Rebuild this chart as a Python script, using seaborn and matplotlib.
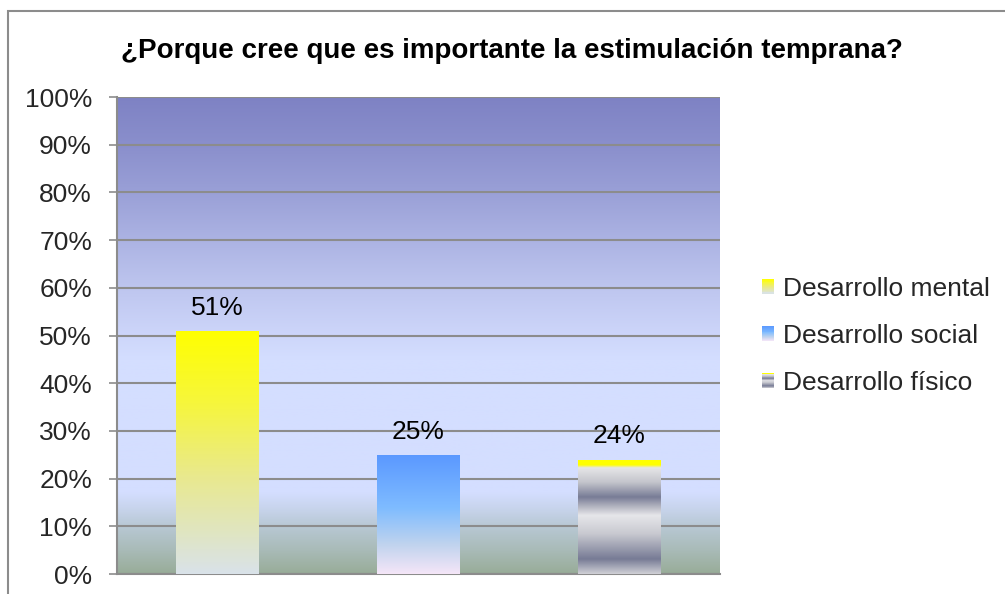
import numpy as np
import pandas as pd
import matplotlib
matplotlib.use("Agg")
import matplotlib.pyplot as plt
import seaborn as sns
from matplotlib.colors import LinearSegmentedColormap
from matplotlib.patches import Rectangle
from matplotlib.legend_handler import HandlerBase

# ---- data ----
categories = ["Desarrollo mental", "Desarrollo social", "Desarrollo físico"]
values = [51, 25, 24]
value_labels = ["51%", "25%", "24%"]
title = "¿Porque cree que es importante la estimulación temprana?"
ytick_values = list(range(0, 101, 10))

# ---- styles ----
sns.set_theme(style="white")
plt.rcParams["font.family"] = ["Liberation Sans", "DejaVu Sans"]

bar_gradients = {
    "Desarrollo mental": [(0.0, "#ffff00"), (0.3, "#f6f63c"), (0.6, "#e9e98e"),
                          (0.85, "#dfe5c6"), (1.0, "#d9e2ea")],
    "Desarrollo social": [(0.0, "#5a98ff"), (0.45, "#7fbcff"), (0.75, "#bfd3ee"),
                          (1.0, "#f5e6f8")],
    "Desarrollo físico": [(0.0, "#ffff00"), (0.05, "#ffff00"), (0.075, "#e6e6e8"),
                          (0.2, "#c4c5cc"), (0.33, "#787c96"), (0.42, "#b8b9c4"),
                          (0.49, "#e6e6ea"), (0.65, "#c8c9d0"), (0.87, "#777b95"),
                          (1.0, "#d0d0d6")],
}
bg_stops = [(0.0, "#7e82c4"), (0.10, "#8a8fcc"), (0.20, "#9aa0d7"), (0.30, "#acb3e3"),
            (0.40, "#bec6ef"), (0.50, "#cdd6fa"), (0.55, "#d4deff"), (0.83, "#d4deff"),
            (0.87, "#c5d2e8"), (0.90, "#b8c8d4"), (0.95, "#a9bbb8"), (1.0, "#98ac98")]

FS = 19


def make_cmap(stops, name):
    return LinearSegmentedColormap.from_list(name, stops, N=512)


W, H = 1005, 594
fig = plt.figure(figsize=(W / 100, H / 100), dpi=100)
fig.patch.set_facecolor("white")
ax = fig.add_axes([117 / W, 20 / H, 603 / W, 477 / H])

df = pd.DataFrame({"cat": categories, "val": values})
sns.barplot(data=df, x="cat", y="val", hue="cat", order=categories,
            palette=["#ffff00", "#5a98ff", "#a0a0b0"], width=0.41,
            legend=False, ax=ax, zorder=3)

ax.set_xlim(-0.5, 2.5)
ax.set_ylim(0, 100)
ax.set_xlabel("")
ax.set_ylabel("")
ax.set_xticks([])
ax.set_yticks(ytick_values)
ax.set_yticklabels([f"{v}%" for v in ytick_values], fontsize=FS)
ax.tick_params(axis="y", length=6, width=1.2, color="#8c8c8c", pad=12, left=True)

# background gradient
grad = np.linspace(0, 1, 512).reshape(-1, 1)
ax.imshow(grad, cmap=make_cmap(bg_stops, "bg"), aspect="auto",
          extent=[0, 1, 0, 1], transform=ax.transAxes, zorder=0)
ax.set_facecolor("none")
ax.yaxis.grid(True, color="#8c8c8c", linewidth=1.5, zorder=1)
ax.set_axisbelow(True)
for s in ["top", "right"]:
    ax.spines[s].set_visible(False)
for s in ["left", "bottom"]:
    ax.spines[s].set_color("#8c8c8c")
    ax.spines[s].set_linewidth(1.5)

# gradient fills for the bars
for patch, cat in zip(ax.patches, categories):
    x0, y0 = patch.get_x(), patch.get_y()
    w, h = patch.get_width(), patch.get_height()
    im = ax.imshow(grad, cmap=make_cmap(bar_gradients[cat], cat), aspect="auto",
                   extent=[x0, x0 + w, y0, y0 + h], zorder=3, interpolation="bilinear")
    im.set_clip_path(patch)
    patch.set_facecolor("none")
    patch.set_edgecolor("none")
ax.set_xlim(-0.5, 2.5)
ax.set_ylim(0, 100)

for patch, lab in zip(ax.patches, value_labels):
    ax.annotate(lab, (patch.get_x() + patch.get_width() / 2, patch.get_height()),
                xytext=(0, 8), textcoords="offset points", ha="center", va="bottom",
                fontsize=FS, color="black", zorder=5)

# title
fig.text(512 / W, 1 - 51 / H, title, ha="center", va="center",
         fontsize=20, fontweight="bold", color="black")

# figure border (left and top visible)
fig.patches.append(Rectangle((8 / W, -0.1), 1.2, (H - 11) / H + 0.1,
                             transform=fig.transFigure, fill=False,
                             edgecolor="#8c8c8c", linewidth=1.5, zorder=0))


# legend with gradient swatches
class GradHandler(HandlerBase):
    def __init__(self, stops):
        super().__init__()
        self.cmap = make_cmap(stops, "h")

    def create_artists(self, legend, orig_handle, xdescent, ydescent, width,
                       height, fontsize, trans):
        n = 16
        arts = []
        for i in range(n):
            c = self.cmap((i + 0.5) / n)
            y = -ydescent + height * (1 - (i + 1) / n)
            arts.append(Rectangle((-xdescent, y), width, height / n + 0.2,
                                  facecolor=c, edgecolor="none", transform=trans))
        return arts


handles = [Rectangle((0, 0), 1, 1) for _ in categories]
handler_map = {h: GradHandler(bar_gradients[c]) for h, c in zip(handles, categories)}
fig.legend(handles, categories, handler_map=handler_map, loc="center left",
           bbox_to_anchor=(762 / W, 1 - 336 / H), frameon=False, fontsize=FS,
           handlelength=0.47, handleheight=0.47, handletextpad=0.33,
           labelspacing=0.88, borderpad=0, borderaxespad=0)

fig.savefig("out.png", dpi=100)
